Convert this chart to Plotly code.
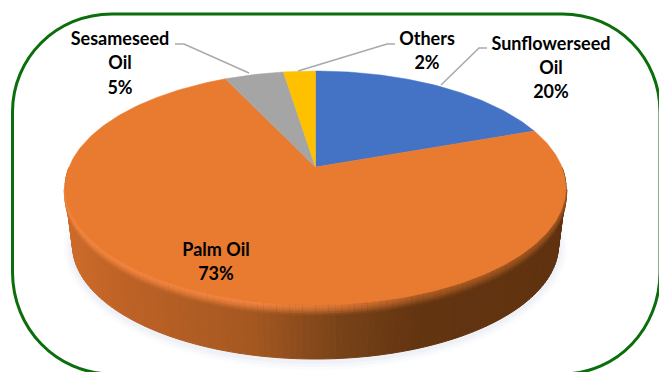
import numpy as np
import plotly.graph_objects as go

categories = ["Sunflowerseed<br>Oil", "Palm Oil", "Sesameseed<br>Oil", "Others"]
values = [19.6, 73.31, 4.6, 2.49]
colors = ["#4472C4", "#E97B30", "#A5A5A5", "#FFC000"]

CX, CY, RX, RY = 315.5, 188.0, 250.5, 117.0
BOT_CY, BOT_RX, BOT_RY = 245.0, 243.0, 114.0
APEX_Y = 167.0
off = (APEX_Y - CY) / RY


def rim(angle_deg):
    a = np.radians(angle_deg)
    dx, dy = np.sin(a), -np.cos(a)
    pd = off * dy
    t = -pd + np.sqrt(pd * pd + 1 - off * off)
    return CX + RX * t * dx, CY + RY * (off + t * dy)


def mix(c1, c2, t):
    c = [int(round(a + (b - a) * t)) for a, b in zip(c1, c2)]
    return f"rgb({c[0]},{c[1]},{c[2]})"


fig = go.Figure()

# soft ground shadow
t = np.linspace(0, 2 * np.pi, 160)
for grow, op in [(9, 0.025), (6, 0.03), (3, 0.04)]:
    fig.add_trace(go.Scatter(
        x=CX + (BOT_RX + grow) * np.sin(t), y=BOT_CY + 2 + (BOT_RY + grow) * np.cos(t),
        mode="lines", fill="toself", fillcolor=f"rgba(90,110,150,{op})",
        line=dict(width=0), hoverinfo="skip", showlegend=False))

# side wall, shaded along x
stops_x = [65, 120, 250, 340, 420, 566]
stops_c = [(205, 107, 42), (190, 98, 38), (165, 88, 33), (120, 66, 24), (98, 52, 16), (96, 50, 15)]
hl_c = [(240, 132, 62), (240, 132, 62), (240, 132, 62), (215, 115, 50), (170, 90, 35), (150, 80, 30)]


def interp(x, stops):
    return tuple(np.interp(x, stops_x, [c[i] for c in stops]) for i in range(3))


th = np.linspace(80, 280, 131)
for a0, a1 in zip(th[:-1], th[1:]):
    r = np.radians([a0, a1])
    xs = CX + RX * np.sin(r)
    ys = CY - RY * np.cos(r)
    xb = CX + BOT_RX * np.sin(r)
    yb = BOT_CY - BOT_RY * np.cos(r)
    col = mix(interp(xs.mean(), stops_c), interp(xs.mean(), stops_c), 0)
    fig.add_trace(go.Scatter(
        x=[xs[0], xs[1], xb[1], xb[0], xs[0]],
        y=[ys[0], ys[1], yb[1], yb[0], ys[0]],
        mode="lines", fill="toself", fillcolor=col, line=dict(color=col, width=1),
        hoverinfo="skip", showlegend=False))

# bevel band just below the face (deepest drawn first)
th_b = np.linspace(90, 270, 121)
for d, k in [(9, 0.15), (7, 0.4), (5, 0.65), (3, 0.85), (1, 1.0)]:
    for a0, a1 in zip(th_b[:-1], th_b[1:]):
        r = np.radians([a0, a1])
        xs = CX + (RX - d * 0.12) * np.sin(r)
        ys = CY - RY * np.cos(r) + d
        xm = xs.mean()
        fig.add_trace(go.Scatter(
            x=xs, y=ys, mode="lines",
            line=dict(color=mix(interp(xm, stops_c), interp(xm, hl_c), k), width=3),
            hoverinfo="skip", showlegend=False))

# top face: slices from values, running clockwise from 12 o'clock
cum = 0.0
for cat, val, col in zip(categories, values, colors):
    angs = np.linspace(cum, cum + val, max(int(val * 4), 6)) * 3.6
    pts = [rim(a) for a in angs]
    px = [CX] + [p[0] for p in pts] + [CX]
    py = [APEX_Y] + [p[1] for p in pts] + [APEX_Y]
    fig.add_trace(go.Scatter(
        x=px, y=py, mode="lines", fill="toself", fillcolor=col,
        line=dict(color=col, width=0.5), name=cat.replace("<br>", " "),
        hoverinfo="name", showlegend=False))
    cum += val

# leader lines
leaders = [
    ([175, 184, 249], [44, 44, 73]),
    ([395, 387, 298], [44, 44, 71]),
    ([487, 479, 441], [48, 48, 85]),
]
for lx, ly in leaders:
    fig.add_trace(go.Scatter(x=lx, y=ly, mode="lines", line=dict(color="#A9A9A9", width=1.5),
                             hoverinfo="skip", showlegend=False))

# labels
label_at = {0: (551, [45, 69, 93]), 1: (216, [251, 275]), 2: (120, [40, 64, 89]), 3: (427, [40, 64])}
for i, (lx, lys) in label_at.items():
    lines = categories[i].split("<br>") + [f"{round(values[i])}%"]
    fig.add_trace(go.Scatter(
        x=[lx] * len(lines), y=lys, mode="text", text=lines, textposition="middle center",
        textfont=dict(family="Lato", size=18, color="#000000", weight="bold"),
        hoverinfo="skip", showlegend=False))

fig.update_layout(
    width=659, height=372, margin=dict(l=0, r=0, t=0, b=0),
    paper_bgcolor="white", plot_bgcolor="white",
    xaxis=dict(range=[0, 659], visible=False, fixedrange=True),
    yaxis=dict(range=[372, 0], visible=False, fixedrange=True),
    shapes=[dict(
        type="path", layer="below", xref="x", yref="y",
        path="M 112,14 L 562,14 C 618,14 660,58 660,112 L 660,272 C 660,328 618,374 562,374 "
             "L 112,374 C 56,374 12.5,328 12.5,272 L 12.5,112 C 12.5,58 56,14 112,14 Z",
        line=dict(color="#0B6E0B", width=3), fillcolor="rgba(0,0,0,0)")],
)
fig.write_html("out.html", config={"displayModeBar": False},
               post_script="document.body.style.margin='0';document.documentElement.style.overflow='hidden';")
